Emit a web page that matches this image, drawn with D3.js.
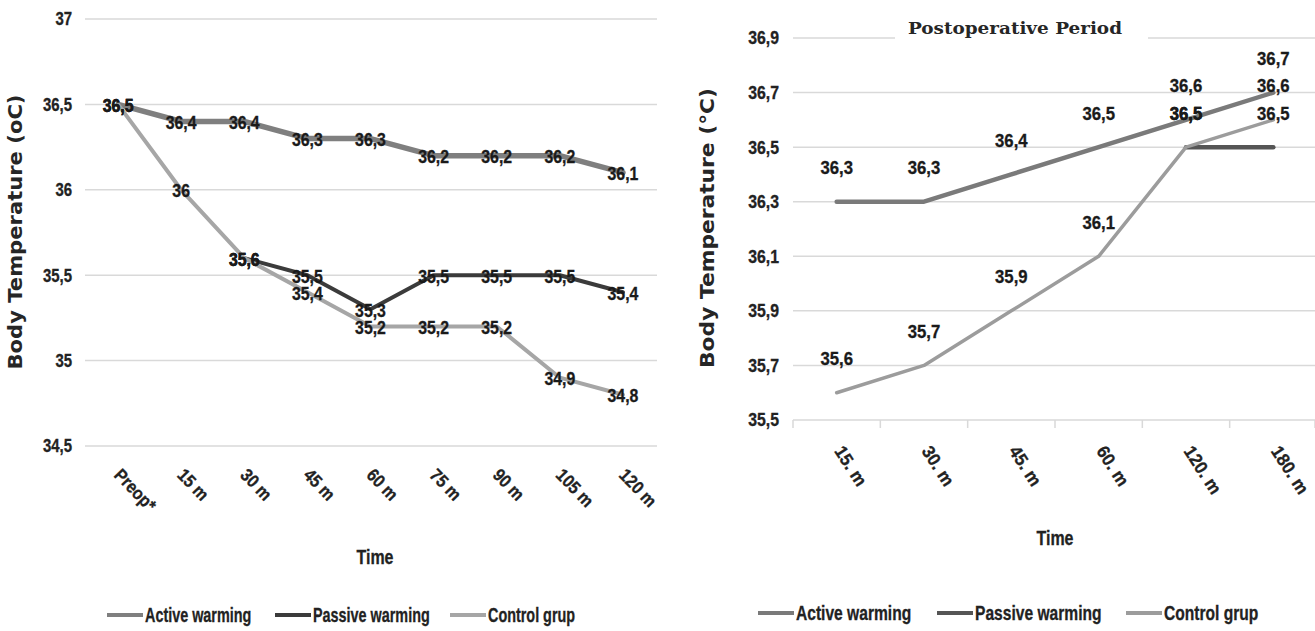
<!DOCTYPE html>
<html>
<head>
<meta charset="utf-8">
<script src="https://cdn.jsdelivr.net/npm/d3@7"></script>
<style>
  html, body { margin: 0; padding: 0; background: #fff; }
  svg { display: block; }
  .nar { font-family: 'Liberation Sans', Arial, sans-serif; font-weight: bold; }
</style>
</head>
<body>
<svg id="chart" width="1315" height="631"></svg>
<script>
// ---------- data ----------
const seriesNames = ["Active warming", "Passive warming", "Control grup"];

// Left: intraoperative
const leftCategories = ["Preop*", "15 m", "30 m", "45 m", "60 m", "75 m", "90 m", "105 m", "120 m"];
const leftActive  = [36.5, 36.4, 36.4, 36.3, 36.3, 36.2, 36.2, 36.2, 36.1];
const leftPassive = [null, null, 35.6, 35.5, 35.3, 35.5, 35.5, 35.5, 35.4];
const leftControl = [36.5, 36.0, 35.6, 35.4, 35.2, 35.2, 35.2, 34.9, 34.8];
const leftTicks = [34.5, 35, 35.5, 36, 36.5, 37];

// Right: postoperative
const rightTitle = "Postoperative Period";
const rightCategories = ["15. m", "30. m", "45. m", "60. m", "120. m", "180. m"];
const rightActive  = [36.3, 36.3, 36.4, 36.5, 36.6, 36.7];
const rightPassive = [null, null, null, null, 36.5, 36.5];
const rightControl = [35.6, 35.7, 35.9, 36.1, 36.5, 36.6];
const rightTicks = [35.5, 35.7, 35.9, 36.1, 36.3, 36.5, 36.7, 36.9];

const fmt = v => String(v).replace(".", ",");
const svg = d3.select("#chart");

// narrow text helper (horizontally condensed bold sans)
function ntext(sel, x, y, s, opts) {
  const rot = opts.rotate ? ` rotate(${opts.rotate})` : "";
  return sel.append("text").attr("class", "nar")
    .attr("transform", `translate(${x},${y})${rot} scale(${s},1)`)
    .attr("text-anchor", opts.anchor || "start")
    .attr("dy", opts.dy || "0")
    .attr("font-size", opts.size || 18)
    .attr("fill", opts.fill || "#222")
    .attr("stroke", opts.fill || "#222").attr("stroke-width", 0.3)
    .text(opts.text);
}

// ---------- left chart ----------
(function () {
  const g = svg.append("g");
  const x = d3.scaleBand().domain(leftCategories).range([86.5, 654.5]);
  const y = d3.scaleLinear().domain([34.5, 37]).range([446, 19]);
  const cx = c => x(c) + x.bandwidth() / 2;

  g.selectAll(".grid").data(leftTicks).join("line")
    .attr("x1", 85).attr("x2", 657)
    .attr("y1", d => y(d)).attr("y2", d => y(d))
    .attr("stroke", "#d9d9d9").attr("stroke-width", 1.5);

  leftTicks.forEach(t => ntext(g, 72, y(t), 0.83, { anchor: "end", dy: "0.36em", size: 18, text: fmt(t) }));

  leftCategories.forEach(c => ntext(g, cx(c) - 5, 476, 0.88, { rotate: 46, size: 18, text: c }));

  const series = [
    { vals: leftActive,  color: "#7f7f7f", w: 5.5 },
    { vals: leftPassive, color: "#3b3b3b", w: 4 },
    { vals: leftControl, color: "#a6a6a6", w: 4 }
  ];
  const line = d3.line().defined(d => d.v != null).x(d => cx(d.c)).y(d => y(d.v));
  series.forEach(s => {
    const pts = leftCategories.map((c, i) => ({ c, v: s.vals[i] }));
    g.append("path").datum(pts).attr("d", line)
      .attr("fill", "none").attr("stroke", s.color).attr("stroke-width", s.w)
      .attr("stroke-linejoin", "round").attr("stroke-linecap", "round");
  });
  series.forEach(s => {
    leftCategories.forEach((c, i) => {
      const v = s.vals[i];
      if (v == null) return;
      ntext(g, cx(c), y(v), 0.88, { anchor: "middle", dy: "0.42em", size: 18, fill: "#1a1a1a", text: fmt(v) });
    });
  });

  g.append("text").attr("transform", "translate(22,232) rotate(-90)")
    .attr("text-anchor", "middle").attr("font-family", "DejaVu Sans")
    .attr("font-weight", "bold").attr("font-size", 19).attr("fill", "#262626")
    .attr("textLength", 275).attr("lengthAdjust", "spacingAndGlyphs")
    .text("Body Temperature (oC)");
  ntext(g, 375, 564, 0.76, { anchor: "middle", size: 21, text: "Time" });

  const legX = [107, 275, 450];
  seriesNames.forEach((n, i) => {
    g.append("line").attr("x1", legX[i]).attr("x2", legX[i] + 36)
      .attr("y1", 615).attr("y2", 615)
      .attr("stroke", series[i].color).attr("stroke-width", 4);
    ntext(g, legX[i] + 38, 615, 0.72, { dy: "0.36em", size: 20, text: n });
  });
})();

// ---------- right chart ----------
(function () {
  const g = svg.append("g");
  const x = d3.scaleBand().domain(rightCategories).range([793, 1317]);
  const y = d3.scaleLinear().domain([35.5, 36.9]).range([420, 38]);
  const cx = c => x(c) + x.bandwidth() / 2;

  g.selectAll(".grid").data(rightTicks).join("line")
    .attr("x1", 793).attr("x2", 1315)
    .attr("y1", d => y(d)).attr("y2", d => y(d))
    .attr("stroke", "#d9d9d9").attr("stroke-width", 1.5);

  const bounds = rightCategories.map(c => x(c)).concat([x.range()[1] - 2]);
  g.selectAll(".tk").data(bounds).join("line")
    .attr("x1", d => d).attr("x2", d => d).attr("y1", 420).attr("y2", 428)
    .attr("stroke", "#d9d9d9").attr("stroke-width", 1.5);

  rightTicks.forEach(t => ntext(g, 779, y(t), 0.88, { anchor: "end", dy: "0.36em", size: 18, text: d3.format(".1f")(t).replace(".", ",") }));

  rightCategories.forEach(c => ntext(g, cx(c) - 3, 451, 0.95, { rotate: 57, size: 18, text: c }));

  // title with white background
  g.append("rect").attr("x", 895).attr("y", 20)
    .attr("width", 253).attr("height", 24).attr("fill", "#fff");
  g.append("text").attr("x", 1015).attr("y", 34)
    .attr("text-anchor", "middle").attr("font-family", "'DejaVu Serif', 'Liberation Serif', serif")
    .attr("font-weight", "bold").attr("font-size", 17).attr("fill", "#262626")
    .attr("textLength", 214).attr("lengthAdjust", "spacingAndGlyphs")
    .text(rightTitle);

  const series = [
    { vals: rightActive,  color: "#7a7a7a", w: 4.5 },
    { vals: rightPassive, color: "#555555", w: 4.5 },
    { vals: rightControl, color: "#9c9c9c", w: 3.5 }
  ];
  const line = d3.line().defined(d => d.v != null).x(d => cx(d.c)).y(d => y(d.v));
  series.forEach(s => {
    const pts = rightCategories.map((c, i) => ({ c, v: s.vals[i] }));
    g.append("path").datum(pts).attr("d", line)
      .attr("fill", "none").attr("stroke", s.color).attr("stroke-width", s.w)
      .attr("stroke-linejoin", "round").attr("stroke-linecap", "round");
  });
  series.forEach(s => {
    rightCategories.forEach((c, i) => {
      const v = s.vals[i];
      if (v == null) return;
      ntext(g, cx(c), y(v) - 34, 0.93, { anchor: "middle", dy: "0.36em", size: 18, fill: "#1a1a1a", text: fmt(v) });
    });
  });

  g.append("text").attr("transform", "translate(714,228) rotate(-90)")
    .attr("text-anchor", "middle").attr("font-family", "DejaVu Sans")
    .attr("font-weight", "bold").attr("font-size", 19).attr("fill", "#262626")
    .attr("textLength", 280).attr("lengthAdjust", "spacingAndGlyphs")
    .text("Body Temperature (°C)");
  ntext(g, 1055, 545, 0.76, { anchor: "middle", size: 21, text: "Time" });

  const legX = [758, 937, 1126];
  seriesNames.forEach((n, i) => {
    g.append("line").attr("x1", legX[i]).attr("x2", legX[i] + 36)
      .attr("y1", 613).attr("y2", 613)
      .attr("stroke", series[i].color).attr("stroke-width", 4);
    ntext(g, legX[i] + 38, 613, 0.78, { dy: "0.36em", size: 20, text: n });
  });
})();
</script>
</body>
</html>
